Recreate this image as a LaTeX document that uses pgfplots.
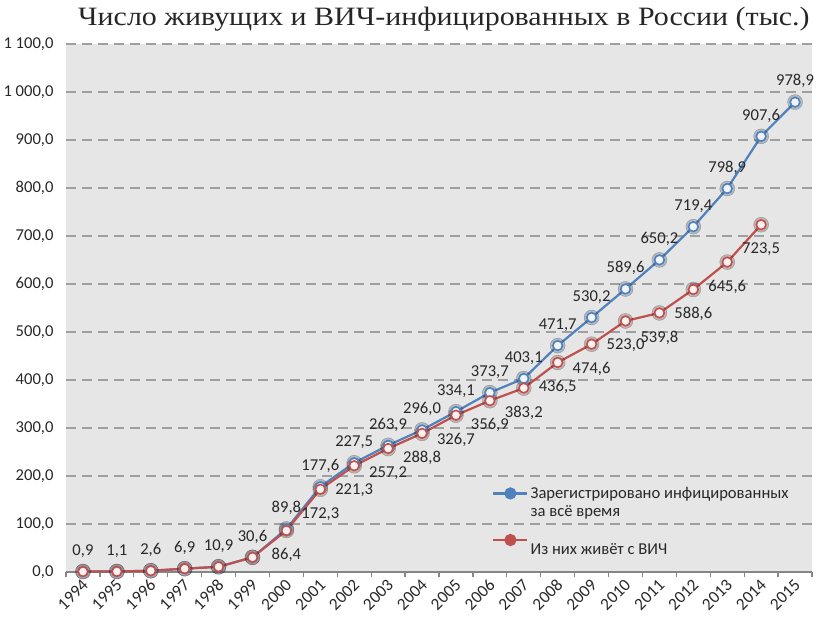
\documentclass[border=0pt]{standalone}
\usepackage{fontspec}
\setmainfont{Carlito}
\newfontfamily\titlefont{Liberation Serif}
\usepackage{pgfplots}
\pgfplotsset{compat=1.18}

\definecolor{bgcol}{RGB}{230,230,230}
\definecolor{gridcol}{RGB}{160,160,160}
\definecolor{axiscol}{RGB}{134,134,134}
\definecolor{txtcol}{RGB}{40,40,40}
\definecolor{blueS}{RGB}{79,129,189}
\definecolor{redS}{RGB}{192,80,77}
\newcommand{\lblfont}{\fontsize{16.6}{20}\selectfont}
\newcommand{\xlblfont}{\fontsize{17.2}{20}\selectfont}

\pgfkeys{/pgf/number format/vals/.style={/pgf/number format/.cd, fixed,
    fixed zerofill, precision=1, use comma, 1000 sep={\ }, assume math mode=true}}

\begin{document}
\begin{tikzpicture}
\useasboundingbox (-66pt,-57pt) rectangle (761pt,572pt);
\begin{axis}[
  scale only axis, width=746pt, height=528pt,
  xmin=-0.5, xmax=21.5, ymin=0, ymax=1100,
  axis background/.style={fill=bgcol},
  axis lines*=left,
  x axis line style={draw=axiscol, line width=1.2pt},
  y axis line style={draw=none},
  xtick={0,...,21},
  xticklabels={1994,1995,1996,1997,1998,1999,2000,2001,2002,2003,2004,
               2005,2006,2007,2008,2009,2010,2011,2012,2013,2014,2015},
  minor xtick={-0.5,0.5,...,21.5},
  major x tick style={draw=none},
  minor x tick style={draw=axiscol, line width=1.2pt},
  major tick length=0pt, minor tick length=5pt,
  tick align=outside,
  ytick={0,100,...,1100},
  ytick style={draw=none},
  scaled y ticks=false,
  ymajorgrids,
  major grid style={draw=gridcol, line width=1.3pt, dash pattern=on 10pt off 6pt},
  x tick label style={xshift=4pt, yshift=-12pt, rotate=45, anchor=east,
                      inner sep=0pt, text height=0.64em, text depth=0pt,
                      font=\xlblfont, text=txtcol},
  y tick label style={font=\lblfont, text=txtcol, xshift=-9pt, /pgf/number format/vals},
  legend style={at={(0.571,0.165)}, anchor=north west, draw=none, fill=none,
                font=\lblfont, text=txtcol, row sep=2pt, inner sep=0pt,
                /tikz/every even column/.append style={column sep=2pt}},
  legend cell align=left,
  clip=false,
]
% glow under markers
\addplot[forget plot, only marks, mark=*, mark size=7.5pt,
  mark options={draw=none, fill=blueS!55!black}, opacity=0.28]
  coordinates {(0,0.9)(1,1.1)(2,2.6)(3,6.9)(4,10.9)(5,30.6)(6,89.8)(7,177.6)
  (8,227.5)(9,263.9)(10,296.0)(11,334.1)(12,373.7)(13,403.1)(14,471.7)
  (15,530.2)(16,589.6)(17,650.2)(18,719.4)(19,798.9)(20,907.6)(21,978.9)};
\addplot[forget plot, only marks, mark=*, mark size=7.5pt,
  mark options={draw=none, fill=redS!55!black}, opacity=0.28]
  coordinates {(0,0.9)(1,1.1)(2,2.6)(3,6.9)(4,10.9)(5,30.6)(6,86.4)(7,172.3)
  (8,221.3)(9,257.2)(10,288.8)(11,326.7)(12,356.9)(13,383.2)(14,436.5)
  (15,474.6)(16,523.0)(17,539.8)(18,588.6)(19,645.6)(20,723.5)};

\addplot[blueS, line width=2.2pt, mark=*, mark size=4.8pt,
  mark options={fill=blueS!8!white, line width=1.6pt},
  nodes near coords={\pgfmathprintnumber[vals]{\pgfplotspointmeta}},
  every node near coord/.append style={anchor=south, yshift=10pt,
    font=\lblfont, text=txtcol},
  legend image code/.code={\draw[blueS, line width=2.5pt] (0pt,0pt) -- (34pt,0pt);
    \fill[blueS] (17pt,0pt) circle (5pt);}]
  coordinates {(0,0.9)(1,1.1)(2,2.6)(3,6.9)(4,10.9)(5,30.6)(6,89.8)(7,177.6)
  (8,227.5)(9,263.9)(10,296.0)(11,334.1)(12,373.7)(13,403.1)(14,471.7)
  (15,530.2)(16,589.6)(17,650.2)(18,719.4)(19,798.9)(20,907.6)(21,978.9)};
\addlegendentry{Зарегистрировано инфицированных}
\addlegendimage{empty legend}
\addlegendentry{за всё время}

\addplot[redS, line width=2.2pt, mark=*, mark size=4.8pt,
  mark options={fill=redS!8!white, line width=1.6pt},
  legend image code/.code={\draw[redS, line width=2.5pt] (0pt,0pt) -- (34pt,0pt);
    \fill[redS] (17pt,0pt) circle (5pt);}]
  coordinates {(0,0.9)(1,1.1)(2,2.6)(3,6.9)(4,10.9)(5,30.6)(6,86.4)(7,172.3)
  (8,221.3)(9,257.2)(10,288.8)(11,326.7)(12,356.9)(13,383.2)(14,436.5)
  (15,474.6)(16,523.0)(17,539.8)(18,588.6)(19,645.6)(20,723.5)};
\addlegendentry{\raisebox{0pt}[30pt][22pt]{Из них живёт с ВИЧ}}

% labels of the second series
\addplot[forget plot, draw=none, mark=none,
  nodes near coords={\pgfmathprintnumber[vals]{\pgfplotspointmeta}},
  every node near coord/.append style={anchor=north, yshift=-14.5pt,
    font=\lblfont, text=txtcol}]
  coordinates {(6,86.4)(7,172.3)(8,221.3)(9,257.2)(10,288.8)(11,326.7)
  (12,356.9)(13,383.2)(14,436.5)(15,474.6)(16,523.0)(17,539.8)(18,588.6)
  (19,645.6)(20,723.5)};
\end{axis}
\node[anchor=base, font=\titlefont\fontsize{26.5}{30}\selectfont, text=black!85]
  at (378pt,546pt) {\scalebox{1.13}[1]{Число живущих и ВИЧ-инфицированных в России (тыс.)}};
\end{tikzpicture}
\end{document}
